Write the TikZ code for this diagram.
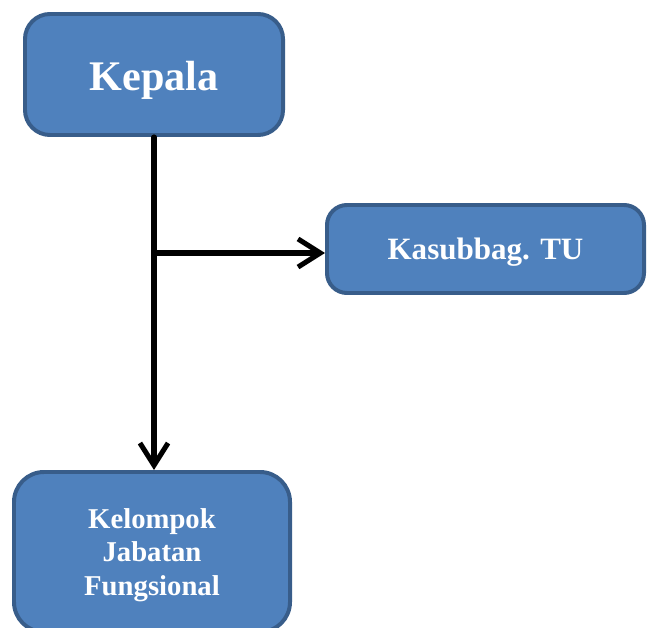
\documentclass[tikz,border=0pt]{standalone}
\usepackage{fontspec}
\setmainfont{Liberation Serif}
\usetikzlibrary{arrows.meta}
\definecolor{isibiru}{HTML}{4F81BD}
\definecolor{garisbiru}{HTML}{385D8A}
\tikzset{
  kotak/.style={draw=garisbiru, fill=isibiru, line width=3.4pt, text=white,
    font=\bfseries, align=center, inner sep=0pt, text depth=0pt},
  panah/.style={line width=4.3pt, line cap=round, line join=round,
    -{Straight Barb[length=19pt,width=24pt,line width=4.3pt]}}
}
\begin{document}
\begin{tikzpicture}[x=0.03cm,y=-0.03cm]
  \useasboundingbox (0,0) rectangle (647,628);
  % Kotak jabatan
  \node[kotak, minimum width=7.74cm, minimum height=3.63cm, rounded corners=0.75cm,
    font=\bfseries\fontsize{36}{40}\selectfont] (kepala) at (154,74.5)
    {\raisebox{-3pt}{Kepala}};
  \node[kotak, minimum width=9.51cm, minimum height=2.64cm, rounded corners=0.6cm,
    font=\bfseries\fontsize{26.5}{30}\selectfont] (kasubbag) at (485.5,249) {Kasubbag. TU};
  \node[kotak, minimum width=8.28cm, minimum height=4.8cm, rounded corners=0.9cm,
    font=\bfseries\fontsize{24.5}{28.5}\selectfont] (kelompok) at (152,552)
    {Kelompok\\Jabatan\\Fungsional};
  % Garis hubung
  \coordinate (cabang) at (kepala.south |- 0,253);
  \draw[panah] (kepala.south) -- (kepala.south |- kelompok.north);
  \draw[panah] (cabang) -- (cabang -| kasubbag.west);
\end{tikzpicture}
\end{document}
